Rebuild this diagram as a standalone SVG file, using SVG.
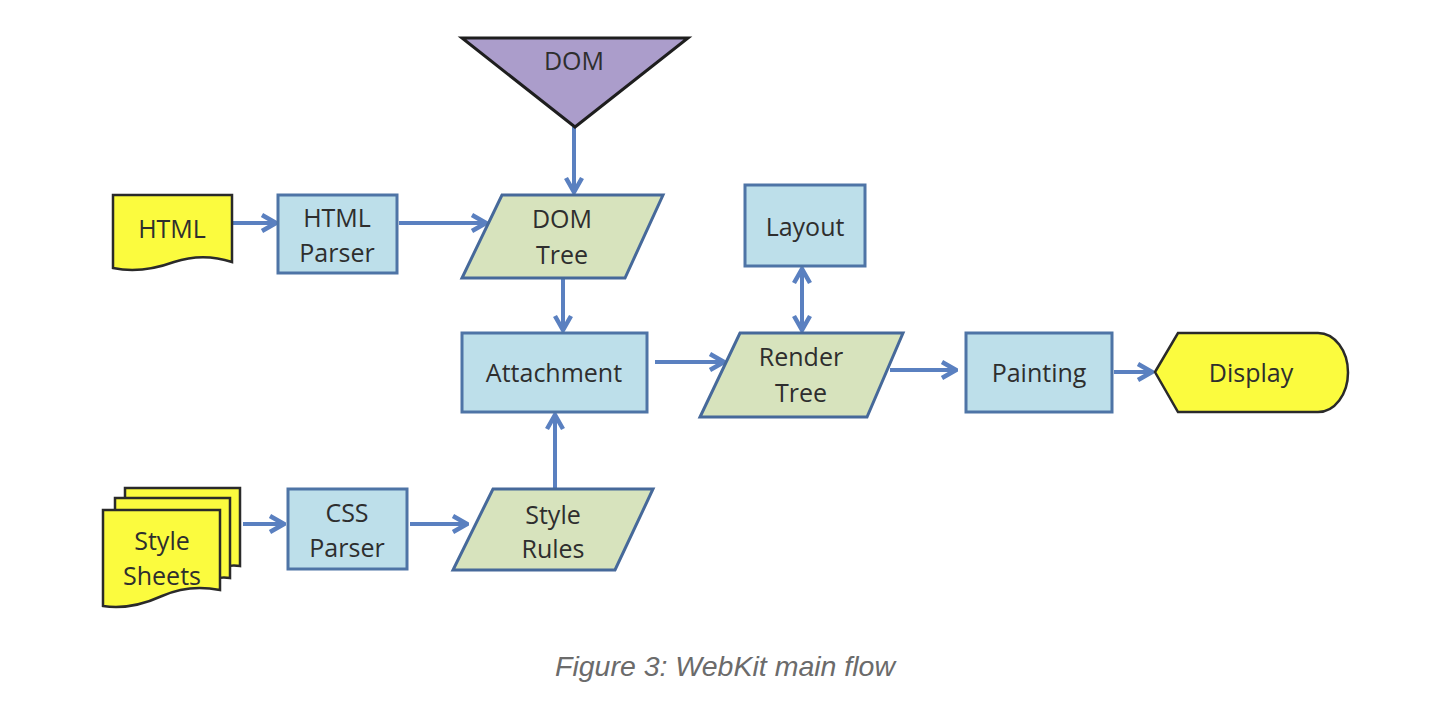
<svg xmlns="http://www.w3.org/2000/svg" width="1444" height="712" viewBox="0 0 1444 712">
<style>
.box{fill:#bddfea;stroke:#4e74a6;stroke-width:3}
.para{fill:#d7e3bd;stroke:#46699a;stroke-width:3}
.doc{fill:#fbfb3e;stroke:#2a2a2a;stroke-width:2.5}
.tri{fill:#ab9dcb;stroke:#1e1e1e;stroke-width:3}
.lbl{font-family:"Open Sans","Noto Sans",sans-serif;font-size:25px;fill:#2e2e2e;text-anchor:middle}
.conn{stroke:#5a80c0;stroke-width:4;fill:none}
.cap{font-family:"Liberation Sans",Arial,sans-serif;font-style:italic;font-size:28.5px;fill:#6b6b6b;text-anchor:middle}
</style>
<defs>
<marker id="ah" markerUnits="userSpaceOnUse" viewBox="0 0 18 20" refX="16" refY="10" markerWidth="18" markerHeight="20" orient="auto-start-reverse">
<path d="M2,2 L16,10 L2,18" fill="none" stroke="#5a80c0" stroke-width="4.5" stroke-linejoin="miter"/>
</marker>
</defs>
<rect width="1444" height="712" fill="#ffffff"/>

<g id="connectors">
<line class="conn" x1="233" y1="223" x2="276" y2="223" marker-end="url(#ah)"/>
<line class="conn" x1="399" y1="223" x2="486" y2="223" marker-end="url(#ah)"/>
<line class="conn" x1="574" y1="127" x2="574" y2="192" marker-end="url(#ah)"/>
<line class="conn" x1="563" y1="279" x2="563" y2="330" marker-end="url(#ah)"/>
<line class="conn" x1="655" y1="362" x2="724" y2="362" marker-end="url(#ah)"/>
<line class="conn" x1="802" y1="269" x2="802" y2="330" marker-start="url(#ah)" marker-end="url(#ah)"/>
<line class="conn" x1="890" y1="370" x2="956" y2="370" marker-end="url(#ah)"/>
<line class="conn" x1="1114" y1="372" x2="1152" y2="372" marker-end="url(#ah)"/>
<line class="conn" x1="243" y1="524" x2="284" y2="524" marker-end="url(#ah)"/>
<line class="conn" x1="410" y1="524" x2="467" y2="524" marker-end="url(#ah)"/>
<line class="conn" x1="555" y1="489" x2="555" y2="415" marker-end="url(#ah)"/>
</g>

<g id="dom">
<polygon class="tri" points="462,38 688,38 575,127"/>
<text class="lbl" x="574" y="70">DOM</text>
</g>

<g id="html">
<path class="doc" d="M113,195 H232 V262 C214,256 195,255 174,262 C152,270 132,272 113,268 Z"/>
<text class="lbl" x="172" y="238">HTML</text>
</g>

<g id="html-parser">
<rect class="box" x="278" y="195" width="119" height="78"/>
<text class="lbl" x="337" y="227">HTML</text>
<text class="lbl" x="337" y="262">Parser</text>
</g>

<g id="dom-tree">
<polygon class="para" points="502,195 663,195 625,278 462,278"/>
<text class="lbl" x="562" y="228">DOM</text>
<text class="lbl" x="562" y="264">Tree</text>
</g>

<g id="attachment">
<rect class="box" x="462" y="333" width="185" height="79"/>
<text class="lbl" x="554" y="382">Attachment</text>
</g>

<g id="layout">
<rect class="box" x="745" y="185" width="120" height="81"/>
<text class="lbl" x="805" y="236">Layout</text>
</g>

<g id="render-tree">
<polygon class="para" points="740,333 903,333 867,417 700,417"/>
<text class="lbl" x="801" y="366">Render</text>
<text class="lbl" x="801" y="402">Tree</text>
</g>

<g id="painting">
<rect class="box" x="966" y="333" width="146" height="79"/>
<text class="lbl" x="1039" y="382">Painting</text>
</g>

<g id="display">
<path class="doc" d="M1155,372 L1178,333 H1318 A30,39.5 0 0 1 1318,412 H1178 Z"/>
<text class="lbl" x="1251" y="382">Display</text>
</g>

<g id="style-sheets">
<path class="doc" d="M125,488 H240 V566 C232,565 228,566 226,567 L125,567 Z"/>
<path class="doc" d="M115,498 H230 V578 C222,577 218,578 216,579 L115,579 Z"/>
<path class="doc" d="M103,510 H220 V590 C200,586 182,587 162,596 C140,606 122,609 103,606 Z"/>
<text class="lbl" x="162" y="550">Style</text>
<text class="lbl" x="162" y="585">Sheets</text>
</g>

<g id="css-parser">
<rect class="box" x="288" y="489" width="119" height="80"/>
<text class="lbl" x="347" y="522">CSS</text>
<text class="lbl" x="347" y="557">Parser</text>
</g>

<g id="style-rules">
<polygon class="para" points="493,489 653,489 615,570 453,570"/>
<text class="lbl" x="553" y="524">Style</text>
<text class="lbl" x="553" y="558">Rules</text>
</g>

<text class="cap" x="725" y="676">Figure 3: WebKit main flow</text>
</svg>
